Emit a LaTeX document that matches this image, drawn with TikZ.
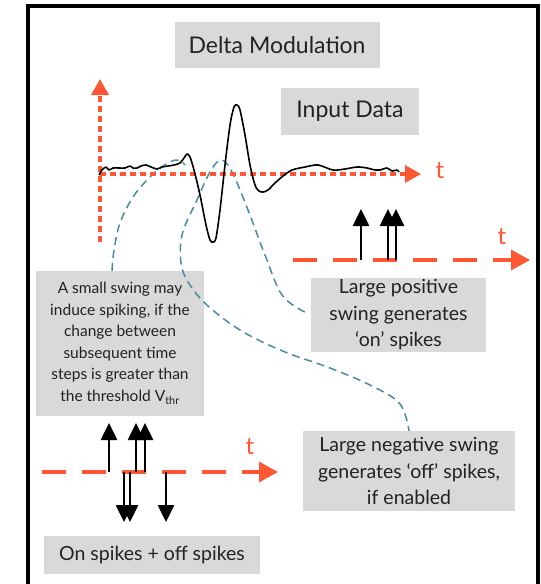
\documentclass[tikz,border=0pt]{standalone}
\usepackage{fontspec}
\setmainfont{Lato}
\usetikzlibrary{arrows.meta}

\definecolor{axisred}{RGB}{255,87,51}
\definecolor{calloutblue}{RGB}{70,140,162}
\definecolor{notegray}{RGB}{217,217,217}
\definecolor{inktext}{RGB}{34,34,34}

\tikzset{
  note/.style={fill=notegray, text=inktext, align=center, inner sep=0pt},
  dotaxis/.style={axisred, line width=3.2pt, dash pattern=on 6pt off 4pt, -{Triangle[width=17pt,length=16pt]}},
  dashaxis/.style={axisred, line width=3.2pt, dash pattern=on 24pt off 16pt, -{Triangle[width=20pt,length=19pt]}},
  tlabel/.style={text=axisred, font=\fontsize{24}{24}\selectfont},
  spike/.style={line width=2.6pt, -{Triangle[width=16pt,length=17pt]}},
  callout/.style={calloutblue, line width=1.5pt, dash pattern=on 8pt off 5pt},
}

\begin{document}
\begin{tikzpicture}[x=1pt,y=-1pt]
\useasboundingbox (0,0) rectangle (541,584);

%Kehys
\draw[line width=4pt] (28,600) -- (28,6) -- (538,6) -- (538,600);

%Laatikot
\node[note, minimum width=205pt, minimum height=46pt, font=\fontsize{23}{27}\selectfont] (title) at (277,45) {Delta Modulation};
\node[note, minimum width=138pt, minimum height=47pt, font=\fontsize{23}{27}\selectfont] (input) at (350,111) {Input Data};
\node[note, minimum width=168pt, minimum height=145pt, font=\fontsize{15.5}{21.5}\selectfont] (smallnote) at (120,343.5)
  {A small swing may\\induce spiking, if the\\change between\\subsequent time\\steps is greater than\\the threshold V\textsubscript{thr}};
\node[note, minimum width=175pt, minimum height=74pt, font=\fontsize{19.5}{26.5}\selectfont] (posnote) at (398.5,315)
  {Large positive\\swing generates\\‘on’ spikes};
\node[note, minimum width=212pt, minimum height=80pt, font=\fontsize{19.5}{26.5}\selectfont] (negnote) at (409,471)
  {Large negative swing\\generates ‘off’ spikes,\\if enabled};
\node[note, minimum width=216pt, minimum height=38pt, font=\fontsize{19.5}{22}\selectfont] (spikenote) at (152,555)
  {On spikes + off spikes};

%Selitteet
\coordinate (bump) at (185,165);
\draw[callout] plot[smooth, tension=0.6] coordinates {([xshift=-8pt]smallnote.north) (114,250) (120,223) (133,197) (150,177) (166,164) (178,160) (bump)};
\draw[callout] plot[smooth, tension=0.6] coordinates {([xshift=-6pt,yshift=3pt]posnote.west) (282,295) (265,255) (248,210) (232,172) (221,160) (210,172) (197,200) (182,235) (182,268) (195,292) (215,312) (245,333) (285,352) (330,368) (372,386) (400,404) (negnote.north)};

%Akselit
\coordinate (origin) at (100,174);
\draw[dotaxis] (100,242) coordinate (ybot) -- (100,79) coordinate (ytop);
\draw[dotaxis] (origin) -- (421,174) coordinate (xtip);
\node[tlabel] (t1) at (440,171) {t};

\draw[dashaxis] (293,260) coordinate (onstart) -- (530,260) coordinate (onend);
\node[tlabel] (t2) at (502,237) {t};

\draw[dashaxis] (42,472) coordinate (bothstart) -- (278,472) coordinate (bothend);
\node[tlabel] (t3) at (250,447) {t};

%Signaali
\draw[line width=1.6pt, line join=round] plot[smooth, tension=0.5] coordinates {
  (99,175) (102,170) (106,167) (109,170) (113,168) (119,168) (125,168) (130,166) (133,168) (137,168)
  (141,166) (146,165) (151,167) (157,169) (162,167) (168,166) (174,165) (180,163) (184,158) (187,154)
  (190,157) (194,170) (200,195) (206,225) (210,240) (213,242) (216,238) (220,210) (225,165) (230,125)
  (234,107) (237,105) (240,110) (245,135) (250,165) (255,185) (259,191) (263,192) (268,190) (275,183)
  (283,176) (292,170) (305,167) (318,165) (333,170) (345,169) (357,167) (367,168) (375,170) (380,170)
  (387,168) (392,171) (397,170) (399,172)};

%Piikit
\foreach \x in {361,388,396}
	\draw[spike] (\x,260) -- (\x,209);
\foreach \x in {109,136,145}
	\draw[spike] (\x,472) -- (\x,423);
\foreach \x in {124,130,166}
	\draw[spike] (\x,472) -- (\x,522);

\end{tikzpicture}
\end{document}
